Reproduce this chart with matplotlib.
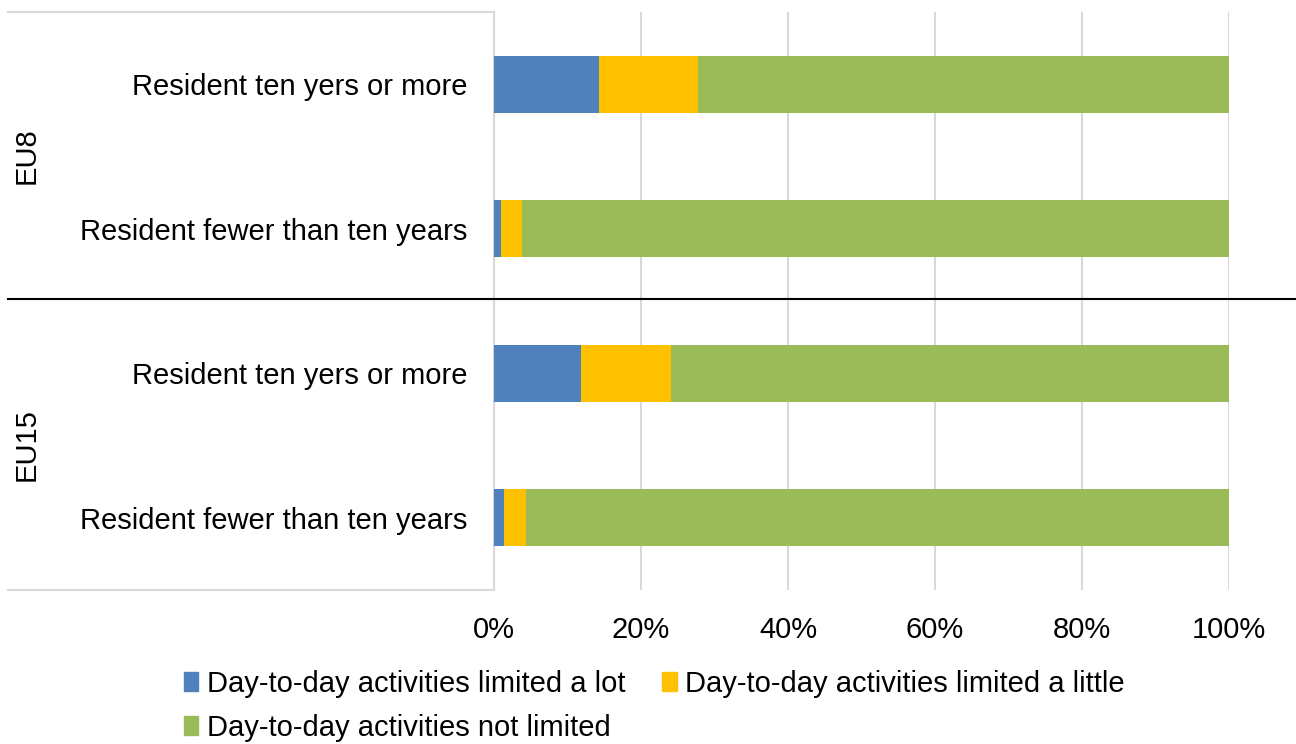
import matplotlib
matplotlib.use("Agg")
import matplotlib.pyplot as plt
from matplotlib.patches import Patch
from matplotlib.lines import Line2D
import numpy as np

plt.rcParams['font.family'] = ['Liberation Sans', 'DejaVu Sans']

groups = ["EU8", "EU15"]
categories = ["Resident ten yers or more", "Resident fewer than ten years",
              "Resident ten yers or more", "Resident fewer than ten years"]
series_names = ["Day-to-day activities limited a lot",
                "Day-to-day activities limited a little",
                "Day-to-day activities not limited"]
limited_lot = [14.3, 0.9, 11.8, 1.3]
limited_little = [13.4, 2.9, 12.3, 3.1]
not_limited = [72.3, 96.2, 75.9, 95.6]
colors = ["#4f81bd", "#ffc000", "#9bbb59"]
xticks = [0, 20, 40, 60, 80, 100]
xtick_labels = ["0%", "20%", "40%", "60%", "80%", "100%"]

FS = 21
W, H = 1296, 744
fig = plt.figure(figsize=(W / 100, H / 100), dpi=100)
ax = fig.add_axes([494 / W, (H - 590) / H, (1229 - 494) / W, (590 - 12) / H])

y = np.arange(len(categories))
left = np.zeros(len(categories))
for vals, c, name in zip([limited_lot, limited_little, not_limited], colors, series_names):
    ax.barh(y, vals, left=left, height=0.395, color=c, label=name, zorder=3)
    left = left + np.array(vals)

ax.set_ylim(3.5, -0.5)
ax.set_xlim(0, 100)
ax.set_xticks(xticks)
ax.set_xticklabels(xtick_labels, fontsize=FS)
ax.set_yticks(y)
ax.set_yticklabels(categories, fontsize=FS)
ax.tick_params(axis='y', length=0, pad=19)
ax.tick_params(axis='x', length=0, pad=19)
ax.xaxis.grid(True, color="#d9d9d9", linewidth=1.5, zorder=0)
for s in ["top", "right", "bottom"]:
    ax.spines[s].set_visible(False)
ax.spines["left"].set_color("#d9d9d9")
ax.spines["left"].set_linewidth(1.5)

# group labels
fig.text(27 / W, 1 - 156 / H, groups[0], rotation=90, ha='center', va='center', fontsize=FS)
fig.text(27 / W, 1 - 445 / H, groups[1], rotation=90, ha='center', va='center', fontsize=FS)

# table-like lines
fig.add_artist(Line2D([8 / W, 494 / W], [1 - 12 / H, 1 - 12 / H], color="#d9d9d9", lw=1.5))
fig.add_artist(Line2D([8 / W, 494 / W], [1 - 590 / H, 1 - 590 / H], color="#d9d9d9", lw=1.5))
fig.add_artist(Line2D([8 / W, 1295 / W], [1 - 299 / H, 1 - 299 / H], color="black", lw=1.5, zorder=10))

handles = [Patch(color=c) for c in colors]
order = [0, 2, 1]
fig.legend([handles[i] for i in order], [series_names[i] for i in order],
           loc='upper left', bbox_to_anchor=(172 / W, 1 - 658 / H), ncol=2,
           frameon=False, fontsize=FS, handlelength=0.5, handleheight=0.65,
           handletextpad=0.3, columnspacing=1.25, labelspacing=0.55, borderaxespad=0)

fig.savefig("out.png", dpi=100)
